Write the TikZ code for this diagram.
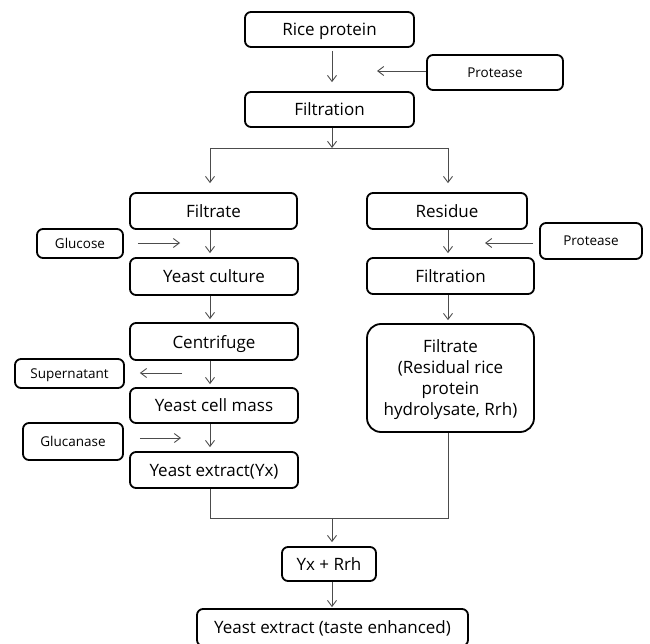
\documentclass[tikz,border=0pt]{standalone}
\usepackage{fontspec}
\setmainfont{Open Sans}
\usetikzlibrary{arrows.meta}
\begin{document}
\begin{tikzpicture}[x=1pt,y=-1pt,
  box/.style={draw=black,line width=1.8pt,rounded corners=6pt,inner sep=0pt,align=center,text depth=0pt,font=\fontsize{17}{20}\selectfont},
  lbox/.style={box,font=\fontsize{13.5}{16}\selectfont},
  arr/.style={draw=black!70,line width=0.9pt,-{Straight Barb[length=6pt,width=9pt,line width=0.9pt]}},
  ln/.style={draw=black!70,line width=0.9pt}]
\useasboundingbox (0,0) rectangle (650,644);
\clip (0,0) rectangle (650,644);
% column lines
\coordinate (c) at (332,0);
\coordinate (l) at (210,0);
\coordinate (r) at (448,0);
% nodes
\node[box,minimum width=169pt,minimum height=35pt] (rice) at (329.5,29.5) {Rice protein};
\node[lbox,minimum width=136pt,minimum height=35pt] (prot1) at (495,72.5) {Protease};
\node[box,minimum width=169pt,minimum height=35pt] (filt1) at (329.5,109.5) {Filtration};
\node[box,minimum width=167pt,minimum height=36pt] (filtrate) at (213.5,211) {Filtrate};
\node[lbox,minimum width=86pt,minimum height=29pt] (glucose) at (80,243.5) {Glucose};
\node[box,minimum width=168pt,minimum height=37pt] (yculture) at (214,276.5) {Yeast culture};
\node[box,minimum width=168pt,minimum height=37pt] (centri) at (214,341.5) {Centrifuge};
\node[lbox,minimum width=109pt,minimum height=29pt] (super) at (69.5,373.5) {Supernatant};
\node[box,minimum width=168pt,minimum height=35pt] (ycell) at (214,405.5) {Yeast cell mass};
\node[lbox,minimum width=100pt,minimum height=37pt] (glucan) at (73,441.5) {Glucanase};
\node[box,minimum width=168pt,minimum height=36pt] (yx) at (214,470) {Yeast extract(Yx)};
\node[box,minimum width=160pt,minimum height=36pt] (residue) at (447,211) {Residue};
\node[lbox,minimum width=102pt,minimum height=36pt] (prot2) at (591,241) {Protease};
\node[box,minimum width=167pt,minimum height=36pt] (filt2) at (450.5,276) {Filtration};
\node[box,minimum width=167pt,minimum height=108pt,rounded corners=14pt,font=\fontsize{17}{21}\selectfont] (rrh) at (450.5,378) {Filtrate\\(Residual rice\\protein\\hydrolysate, Rrh)};
\node[box,minimum width=94pt,minimum height=34pt] (yxrrh) at (329,564) {Yx + Rrh};
\node[box,minimum width=271pt,minimum height=37pt] (final) at (332.5,627.5) {Yeast extract (taste enhanced)};
% free ends
\coordinate (p1e) at (377,71);
\coordinate (j) at (332,148);
\coordinate (jl) at (210,148);
\coordinate (jr) at (448,148);
\coordinate (ge) at (180,243);
\coordinate (ss) at (182,373);
\coordinate (gce) at (181,438);
\coordinate (p2e) at (485,243);
\coordinate (b) at (332,518);
\coordinate (bl) at (210,518);
\coordinate (br) at (448,518);
% connectors
\draw[arr,shorten <=3pt,shorten >=9pt] (rice.south -| c) -- (filt1.north -| c);
\draw[arr] (prot1.west |- p1e) -- (p1e);
\draw[arr] (filt1.south -| c) -- (j);
\draw[ln] (jl) -- (jr);
\draw[arr,shorten >=9pt] (jl) -- (filtrate.north -| l);
\draw[arr,shorten >=9pt] (jr) -- (residue.north -| r);
\draw[arr,shorten >=4pt] (filtrate.south -| l) -- (yculture.north -| l);
\draw[arr,shorten >=3pt] (yculture.south -| l) -- (centri.north -| l);
\draw[arr,shorten >=3pt] (centri.south -| l) -- (ycell.north -| l);
\draw[arr,shorten >=4pt] (ycell.south -| l) -- (yx.north -| l);
\draw[arr,shorten <=14pt] (glucose.east |- ge) -- (ge);
\draw[arr,shorten >=15pt] (ss) -- (super.east |- ss);
\draw[arr,shorten <=16pt] (glucan.east |- gce) -- (gce);
\draw[arr,shorten >=4pt] (residue.south -| r) -- (filt2.north -| r);
\draw[arr,shorten <=6pt] (prot2.west |- p2e) -- (p2e);
\draw[arr,shorten >=3pt] (filt2.south -| r) -- (rrh.north -| r);
\draw[ln] (yx.south -| l) -- (bl) -- (br) -- (rrh.south -| r);
\draw[arr,shorten >=4pt] (b) -- (yxrrh.north -| b);
\draw[arr,shorten >=1pt] (yxrrh.south -| b) -- (final.north -| b);
\end{tikzpicture}
\end{document}
